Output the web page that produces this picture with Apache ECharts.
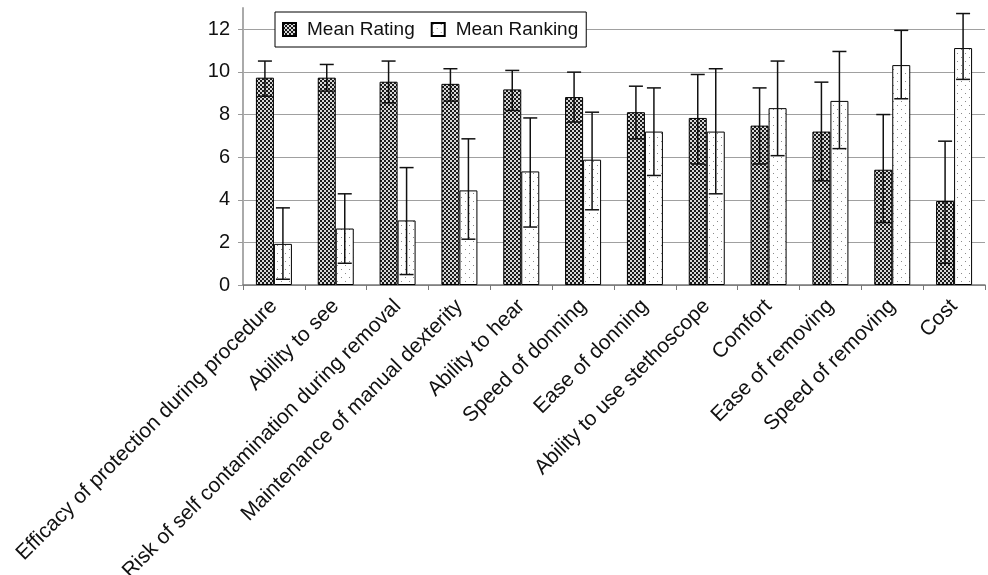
<!DOCTYPE html>
<html>
<head>
<meta charset="utf-8">
<script src="https://cdn.jsdelivr.net/npm/echarts@6/dist/echarts.min.js"></script>
<style>
html,body{margin:0;padding:0;background:#fff;}
#chart{width:988px;height:575px;}
</style>
</head>
<body>
<div id="chart"></div>
<script>
const categories = [
  'Efficacy of protection during procedure',
  'Ability to see',
  'Risk of self contamination during removal',
  'Maintenance of manual dexterity',
  'Ability to hear',
  'Speed of donning',
  'Ease of donning',
  'Ability to use stethoscope',
  'Comfort',
  'Ease of removing',
  'Speed of removing',
  'Cost'
];
const ratingMean = [9.73, 9.73, 9.54, 9.44, 9.18, 8.82, 8.11, 7.84, 7.48, 7.20, 5.41, 3.94];
const ratingLow  = [8.86, 9.10, 8.55, 8.63, 8.19, 7.65, 6.86, 5.68, 5.68, 4.89, 2.93, 1.02];
const ratingHigh = [10.51, 10.35, 10.51, 10.15, 10.07, 9.99, 9.33, 9.88, 9.25, 9.52, 8.00, 6.75];
const rankingMean = [1.93, 2.65, 3.03, 4.44, 5.33, 5.88, 7.20, 7.20, 8.30, 8.64, 10.32, 11.12];
const rankingLow  = [0.27, 1.02, 0.49, 2.15, 2.72, 3.53, 5.14, 4.28, 6.07, 6.40, 8.74, 9.65];
const rankingHigh = [3.62, 4.28, 5.51, 6.86, 7.84, 8.11, 9.25, 10.15, 10.51, 10.96, 11.95, 12.74];
const yTicks = [0, 2, 4, 6, 8, 10, 12];

function makeTile(kind) {
  const c = document.createElement('canvas');
  const ctx = c.getContext('2d');
  if (kind === 'dark') {
    c.width = 4; c.height = 4;
    ctx.fillStyle = '#d8d8d8'; ctx.fillRect(0, 0, 4, 4);
    ctx.fillStyle = '#1a1a1a';
    ctx.fillRect(0, 0, 2, 2); ctx.fillRect(2, 2, 2, 2);
  } else {
    c.width = 8; c.height = 8;
    ctx.fillStyle = '#ffffff'; ctx.fillRect(0, 0, 8, 8);
    ctx.fillStyle = '#8a8a8a';
    ctx.fillRect(1, 1, 1, 1); ctx.fillRect(5, 5, 1, 1);
  }
  return { image: c, repeat: 'repeat' };
}
const darkFill = makeTile('dark');
const lightFill = makeTile('light');

const BAR_W = 18;
function errData(low, high) {
  return categories.map((c, i) => [i, low[i], high[i]]);
}
function errRender(offset) {
  return function (params, api) {
    const i = api.value(0);
    const lo = api.coord([i, api.value(1)]);
    const hi = api.coord([i, api.value(2)]);
    const x = lo[0] + offset;
    const cap = 7;
    const style = { stroke: '#111', lineWidth: 1.5 };
    return {
      type: 'group',
      children: [
        { type: 'line', shape: { x1: x, y1: lo[1], x2: x, y2: hi[1] }, style: style },
        { type: 'line', shape: { x1: x - cap, y1: hi[1], x2: x + cap, y2: hi[1] }, style: style },
        { type: 'line', shape: { x1: x - cap, y1: lo[1], x2: x + cap, y2: lo[1] }, style: style }
      ]
    };
  };
}

const chart = echarts.init(document.getElementById('chart'), null, { renderer: 'canvas' });
const font = 'Liberation Sans, Arial, Helvetica, sans-serif';
chart.setOption({
  animation: false,
  backgroundColor: '#fff',
  textStyle: { fontFamily: font },
  grid: { left: 243, right: 3, top: 8, bottom: 290, containLabel: false, outerBoundsMode: 'none' },
  legend: {
    data: ['Mean Rating', 'Mean Ranking'],
    left: 275, top: 12,
    backgroundColor: '#fff',
    borderColor: '#000', borderWidth: 1, borderRadius: 0,
    padding: [8, 8, 8, 7],
    itemWidth: 13, itemHeight: 13, itemGap: 16,
    icon: 'rect',
    textStyle: { fontSize: 19, color: '#111', fontFamily: font, padding: [0, 0, 0, 6] }
  },
  xAxis: {
    type: 'category',
    data: categories,
    axisLine: { lineStyle: { color: '#777', width: 1.5 } },
    axisTick: { show: true, interval: 0, length: 5, lineStyle: { color: '#777' } },
    axisLabel: { interval: 0, rotate: 45, fontSize: 21, color: '#111', margin: 18, fontFamily: font, hideOverlap: false },
    splitLine: { show: false }
  },
  yAxis: {
    type: 'value',
    min: 0, max: 13, interval: 2,
    axisLine: { show: true, lineStyle: { color: '#aaa', width: 2 } },
    axisTick: { show: true, length: 5, lineStyle: { color: '#999' }, customValues: yTicks },
    axisLabel: { fontSize: 20, color: '#111', margin: 13, customValues: yTicks, fontFamily: font },
    splitLine: { show: true, lineStyle: { color: '#a0a0a0', width: 1 } }
  },
  series: [
    {
      name: 'Mean Rating', type: 'bar', data: ratingMean,
      barWidth: BAR_W, barGap: '0%',
      itemStyle: { color: darkFill, borderColor: '#000', borderWidth: 1 }
    },
    {
      name: 'Mean Ranking', type: 'bar', data: rankingMean,
      barWidth: BAR_W, barGap: '0%',
      itemStyle: { color: lightFill, borderColor: '#000', borderWidth: 1 }
    },
    {
      type: 'custom', name: 'ratingErr', data: errData(ratingLow, ratingHigh),
      renderItem: errRender(-BAR_W / 2), encode: { x: 0, y: [1, 2] }, z: 5, silent: true
    },
    {
      type: 'custom', name: 'rankingErr', data: errData(rankingLow, rankingHigh),
      renderItem: errRender(BAR_W / 2), encode: { x: 0, y: [1, 2] }, z: 5, silent: true
    }
  ]
});
</script>
</body>
</html>
